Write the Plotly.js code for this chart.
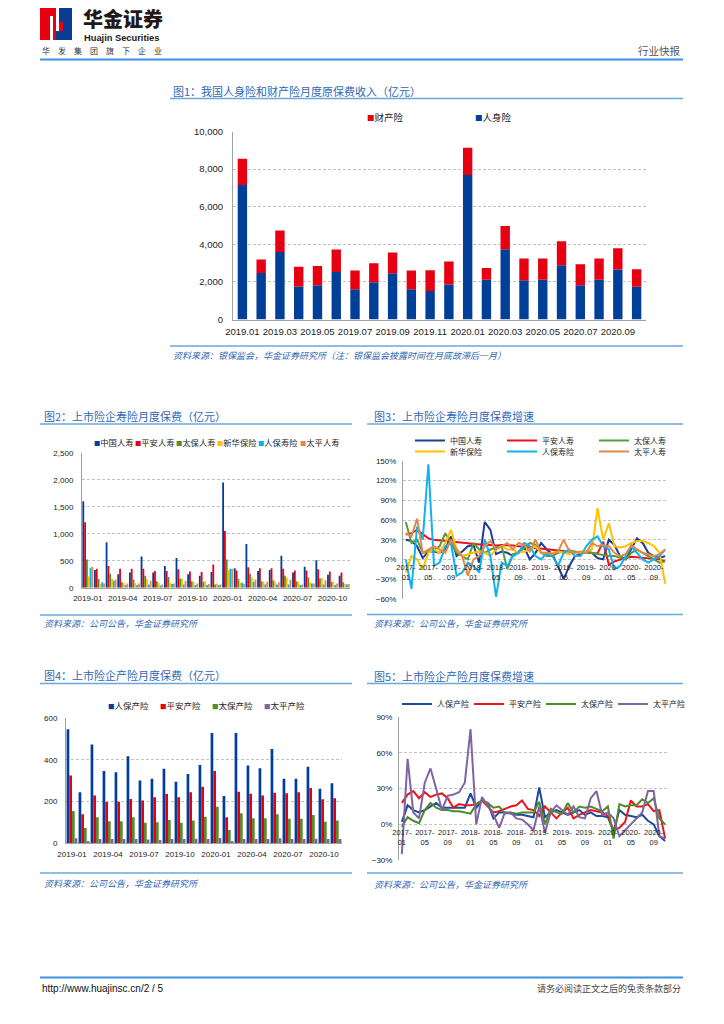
<!DOCTYPE html>
<html><head><meta charset="utf-8">
<script src="https://cdn.plot.ly/plotly-3.0.1.min.js"></script>
<style>html,body{margin:0;padding:0;background:#fff}#page{width:724px;height:1024px}</style>
</head><body><div id="page"></div>
<script>
// ---------- Chart 1 data ----------
const months1 = ['2019.01','2019.02','2019.03','2019.04','2019.05','2019.06','2019.07','2019.08','2019.09','2019.10','2019.11','2019.12',
                 '2020.01','2020.02','2020.03','2020.04','2020.05','2020.06','2020.07','2020.08','2020.09','2020.10'];
const life1 = [7150,2480,3590,1750,1820,2530,1610,1980,2460,1610,1520,1860,7690,2120,3740,2090,2120,2890,1820,2120,2660,1740];
const prop1 = [1400,710,1140,1050,1030,1190,990,1010,1100,990,1100,1220,1450,620,1230,1150,1120,1270,1120,1120,1130,930];
const names1 = ['财产险','人身险'];

// ---------- Chart 2 data ----------
const months2 = ['2019-01','2019-02','2019-03','2019-04','2019-05','2019-06','2019-07','2019-08','2019-09','2019-10','2019-11','2019-12',
                 '2020-01','2020-02','2020-03','2020-04','2020-05','2020-06','2020-07','2020-08','2020-09','2020-10','2020-11'];
const ticks24 = ['2019-01','2019-04','2019-07','2019-10','2020-01','2020-04','2020-07','2020-10'];
const names2 = ['中国人寿','平安人寿','太保人寿','新华保险','人保寿险','太平人寿'];
const chinaLife = [1600,330,840,250,280,580,280,400,550,250,220,290,1950,360,810,310,330,590,280,390,510,240,220];
const pinganLife = [1210,350,400,350,350,350,310,310,340,300,290,430,1050,320,380,360,360,350,320,320,340,300,280];
const cpicLife = [520,160,260,100,150,220,120,200,170,120,110,60,520,160,260,120,140,220,120,190,170,110,100];
const nciLife = [210,70,170,90,90,160,90,90,170,110,120,80,330,90,190,110,110,190,100,100,180,110,70];
const piccLife = [370,100,130,50,50,60,40,70,60,50,50,50,350,90,110,60,60,60,50,80,60,50,60];
const taipingLife = [390,80,150,80,80,130,60,80,130,80,70,60,350,70,150,110,100,150,60,80,140,80,70];

// ---------- Chart 3 data (%) ----------
const months3 = ['2017-01','2017-02','2017-03','2017-04','2017-05','2017-06','2017-07','2017-08','2017-09','2017-10','2017-11','2017-12',
                 '2018-01','2018-02','2018-03','2018-04','2018-05','2018-06','2018-07','2018-08','2018-09','2018-10','2018-11','2018-12',
                 '2019-01','2019-02','2019-03','2019-04','2019-05','2019-06','2019-07','2019-08','2019-09','2019-10','2019-11','2019-12',
                 '2020-01','2020-02','2020-03','2020-04','2020-05','2020-06','2020-07','2020-08','2020-09','2020-10','2020-11'];
const tickVals3 = ['2017-01','2017-05','2017-09','2018-01','2018-05','2018-09','2019-01','2019-05','2019-09','2020-01','2020-05','2020-09'];
const tickText3 = ['2017-<br>01','2017-<br>05','2017-<br>09','2018-<br>01','2018-<br>05','2018-<br>09','2019-<br>01','2019-<br>05','2019-<br>09','2020-<br>01','2020-<br>05','2020-<br>09'];
const g3China = [30,28,20,2,12,12,10,15,35,5,12,20,22,-5,57,45,8,12,10,5,12,18,0,10,25,15,8,-10,-30,-10,5,8,12,10,2,0,30,22,5,0,15,32,25,10,5,2,5];
const g3Pingan = [38,40,45,38,32,30,29,28,28,27,26,25,24,23,22,22,21,22,22,21,20,19,19,18,17,15,14,13,12,12,11,11,10,10,9,27,-8,-3,0,2,4,3,3,2,1,0,-3];
const g3Cpic = [57,25,30,10,12,15,20,40,25,10,5,0,25,15,10,15,18,20,-15,8,10,18,25,22,10,5,5,10,12,13,12,10,10,10,8,6,5,5,3,0,10,15,10,5,0,-5,-3];
const g3Nci = [-20,5,0,-15,10,15,10,25,45,15,5,8,10,12,10,5,15,20,15,15,10,12,15,20,10,8,10,12,10,8,10,10,12,15,78,30,55,20,18,20,25,28,28,25,20,10,-37];
const g3Picc = [0,-45,50,30,145,-10,-5,20,25,-25,-20,-5,-10,-20,30,5,-57,-5,-10,5,10,25,20,5,0,10,5,-10,10,15,5,5,20,30,35,20,15,-15,-10,5,20,10,0,-5,0,5,15];
const g3Taiping = [40,35,62,10,15,20,15,10,30,15,5,-25,0,5,20,28,15,20,25,15,25,22,12,30,10,10,8,12,30,12,10,12,10,25,20,22,20,10,5,8,22,15,10,8,5,8,15];

// ---------- Chart 4 data ----------
const names4 = ['人保产险','平安产险','太保产险','太平产险'];
const piccPC = [548,245,474,347,341,418,301,310,358,296,333,376,529,227,529,374,360,453,310,310,368,262,288];
const pinganPC = [325,139,229,198,200,213,205,221,237,221,245,272,347,125,248,238,230,243,240,245,266,211,216];
const cpicPC = [155,74,125,106,106,125,99,101,112,99,110,128,176,64,144,120,120,139,118,118,136,104,110];
const taipingPC = [24,11,21,21,21,21,18,16,21,21,22,21,26,11,21,21,21,24,21,21,22,21,21];

// ---------- Chart 5 data (%) ----------
const g5Picc = [2,16,12,10,12,15,18,14,14,14,14,14,26,14,20,18,5,10,10,9,8,8,7,6,31,6,10,12,10,8,10,12,8,10,7,7,6,-6,12,8,7,6,8,3,0,-10,-14];
const g5Pingan = [18,25,28,22,27,23,25,26,22,14,17,16,16,17,20,15,10,11,13,15,16,20,13,12,7,15,10,5,10,14,5,8,10,12,11,10,7,-5,-3,2,20,15,15,17,11,12,-12];
const g5Cpic = [-2,6,3,1,12,18,14,12,12,11,11,10,9,17,20,18,14,15,9,10,9,10,10,10,19,0,13,10,9,18,10,15,14,15,13,11,15,-12,17,15,16,16,21,18,22,5,0];
const g5Taiping = [-25,55,10,5,35,47,30,12,24,25,27,35,80,0,23,15,8,-3,10,10,5,4,0,-5,15,-7,10,16,12,8,15,6,5,22,28,8,10,5,-10,-5,0,5,10,28,28,-10,-12];

// ---------- helpers ----------
const W = 724, H = 1024;
const px = v => v / W, py = v => 1 - v / H;
const FCN = '"Noto Sans CJK SC", sans-serif';
const FNUM = '"Liberation Sans", Arial, "Noto Sans CJK SC", sans-serif';
const BLUE = '#003f98', RED = '#e60012', GREEN = '#5a8a30', YEL = '#ffc000', CYAN = '#00b0f0', ORG = '#e08a4a', PURP = '#8064a2';
const TITLE_C = '#2f66b3';

function yax(top, bottom, range, dtick, extra) {
  return Object.assign({
    domain: [py(bottom), py(top)], range: range, dtick: dtick, tick0: 0,
    showgrid: true, gridcolor: '#c3c3c3', griddash: '3px,2px', gridwidth: 1,
    zeroline: false, showline: true, linecolor: '#a0a0a0', linewidth: 1,
    ticks: 'outside', ticklen: 5, tickcolor: 'rgba(0,0,0,0)',
    tickfont: {size: 8, family: FNUM, color: '#222'}, fixedrange: true
  }, extra);
}
function xax(left, right, n, extra) {
  return Object.assign({
    domain: [px(left), px(right)], type: 'category', range: [-0.5, n - 0.5],
    showgrid: false, zeroline: false, showline: true, linecolor: '#a0a0a0', linewidth: 1,
    ticks: 'outside', ticklen: 3, tickcolor: 'rgba(0,0,0,0)', tickangle: 0,
    tickfont: {size: 8, family: FNUM, color: '#222'}, fixedrange: true
  }, extra);
}

// ---------- traces ----------
const traces = [];
// chart 1 (stacked via base)
traces.push({type: 'bar', x: months1, y: life1, name: names1[1], xaxis: 'x', yaxis: 'y',
  width: 0.5, offset: -0.25, marker: {color: BLUE}, showlegend: false});
traces.push({type: 'bar', x: months1, y: prop1, base: life1, name: names1[0], xaxis: 'x', yaxis: 'y',
  width: 0.5, offset: -0.25, marker: {color: RED}, showlegend: false});
// chart 2 (grouped)
const series2 = [chinaLife, pinganLife, cpicLife, nciLife, piccLife, taipingLife];
const colors2 = [BLUE, RED, GREEN, YEL, CYAN, ORG];
series2.forEach((s, k) => traces.push({type: 'bar', x: months2, y: s, name: names2[k], xaxis: 'x2', yaxis: 'y2',
  width: 0.156, offset: -0.468 + k * 0.156, marker: {color: colors2[k]}, showlegend: false}));
// chart 3 (lines)
const series3 = [g3China, g3Pingan, g3Cpic, g3Nci, g3Picc, g3Taiping];
const colors3 = ['#1c3f95', '#e8141e', '#5b9a3a', '#ffc000', '#12b1ef', '#e0894b'];
series3.forEach((s, k) => traces.push({type: 'scatter', mode: 'lines', x: months3, y: s, name: names2[k],
  xaxis: 'x3', yaxis: 'y3', line: {color: colors3[k], width: 2}, legend: k < 3 ? 'legend' : 'legend2'}));
// chart 4 (grouped)
const series4 = [piccPC, pinganPC, cpicPC, taipingPC];
const colors4 = [BLUE, RED, GREEN, PURP];
series4.forEach((s, k) => traces.push({type: 'bar', x: months2, y: s, name: names4[k], xaxis: 'x4', yaxis: 'y4',
  width: 0.225, offset: -0.45 + k * 0.225, marker: {color: colors4[k]}, showlegend: false}));
// chart 5 (lines)
const series5 = [g5Picc, g5Pingan, g5Cpic, g5Taiping];
const colors5 = ['#1c4a9c', '#e8141e', '#4e8a2a', '#8064a2'];
series5.forEach((s, k) => traces.push({type: 'scatter', mode: 'lines', x: months3, y: s, name: names4[k],
  xaxis: 'x5', yaxis: 'y5', line: {color: colors5[k], width: 2}, legend: 'legend3'}));

// ---------- geometry ----------
const c3 = {l: 403, r: 668, t: 461, b: 598.7, range: [-60, 150]};
const c5 = {l: 399, r: 668, t: 717.3, b: 860, range: [-30, 90]};
function zeroPos(c) { return py(c.b) + (0 - c.range[0]) / (c.range[1] - c.range[0]) * (py(c.t) - py(c.b)); }

// ---------- annotations ----------
const ann = [];
function txt(t, x, y, o) {
  ann.push(Object.assign({text: t, x: px(x), y: py(y), xref: 'paper', yref: 'paper', showarrow: false,
    xanchor: 'left', yanchor: 'middle', font: {family: FCN, size: 9, color: '#222'}}, o || {}));
}
// header
txt('华金证券', 81, 18, {font: {family: FCN, size: 20, color: '#231815', weight: 900}});
txt('Huajin Securities', 82, 37.8, {font: {family: FNUM, size: 9.3, color: '#231815', weight: 700}});
txt('华\u3000发\u3000集\u3000团\u3000旗\u3000下\u3000企\u3000业', 40, 50.5, {font: {family: FCN, size: 8, color: '#333'}});
txt('行业快报', 683, 50.5, {xanchor: 'right', font: {family: FCN, size: 10.5, color: '#555'}});
// footer
txt('http://www.huajinsc.cn/2 / 5', 40, 988, {font: {family: FNUM, size: 10, color: '#111'}});
txt('请务必阅读正文之后的免责条款部分', 683, 988, {xanchor: 'right', font: {family: FCN, size: 9, color: '#444'}});
// titles
const titles = [['图1：我国人身险和财产险月度原保费收入（亿元）', 171, 91, 11], ['图2：上市险企寿险月度保费（亿元）', 42, 416, 11],
  ['图3：上市险企寿险月度保费增速', 372, 416, 11], ['图4：上市险企产险月度保费（亿元）', 42, 675, 11], ['图5：上市险企产险月度保费增速', 372, 676, 11]];
titles.forEach(t => txt(t[0], t[1], t[2], {font: {family: FCN, size: t[3], color: TITLE_C}}));
const sources = [['资料来源：银保监会，华金证券研究所（注：银保监会披露时间在月底故滞后一月）', 171, 355.5], ['资料来源：公司公告，华金证券研究所', 42, 623],
  ['资料来源：公司公告，华金证券研究所', 372, 623], ['资料来源：公司公告，华金证券研究所', 42, 883], ['资料来源：公司公告，华金证券研究所', 372, 884]];
sources.forEach(s => txt('<i>' + s[0] + '</i>', s[1], s[2], {font: {family: FCN, size: 9, color: TITLE_C}}));
// bar-chart legends (Excel style small squares)
function sqLegend(names, colors, xs, y, size) {
  names.forEach((n, k) => txt('<span style="color:' + colors[k] + ';font-size:' + (size - 2) + 'px">■</span>' + n, xs[k], y,
    {font: {family: FCN, size: size, color: '#222'}}));
}
sqLegend(names1, [RED, BLUE], [365, 473], 116.5, 9.5);
sqLegend(names2, colors2, [92, 133, 174, 215, 256, 298], 441.5, 8.3);
sqLegend(names4, colors4, [106, 158, 210, 262], 705, 8.5);

// ---------- shapes ----------
const shp = [];
function line(x0, y0, x1, y1, color, w) {
  shp.push({type: 'line', xref: 'paper', yref: 'paper', x0: px(x0), y0: py(y0), x1: px(x1), y1: py(y1), line: {color: color, width: w}});
}
function rect(x0, y0, x1, y1, color) {
  shp.push({type: 'rect', xref: 'paper', yref: 'paper', x0: px(x0), y0: py(y0), x1: px(x1), y1: py(y1), fillcolor: color, line: {width: 0}});
}
// logo
rect(40, 8, 56, 40, '#e60012');
rect(56, 8, 72, 40, '#0a3d91');
rect(50, 16, 53, 40, '#ffffff');
rect(56, 8, 59, 31, '#ffffff');
rect(59, 22, 63, 31, '#e60012');
// header / footer lines
line(40, 59.5, 683, 59.5, '#3d8fdc', 2);
line(40, 977.5, 683, 977.5, '#3d8fdc', 2);
// title underlines and source lines
const LC = '#6aa7dc';
line(170, 98.5, 683, 98.5, LC, 1.5); line(170, 346, 683, 346, LC, 1.5);
line(40, 424, 352, 424, LC, 1.5); line(40, 615, 352, 615, LC, 1.5);
line(367, 424, 683, 424, LC, 1.5); line(367, 614.5, 683, 614.5, LC, 1.5);
line(40, 683.5, 352, 683.5, LC, 1.5); line(40, 873, 352, 873, LC, 1.5);
line(367, 683.5, 683, 683.5, LC, 1.5); line(367, 873, 683, 873, LC, 1.5);

// ---------- layout ----------
const legBase = {orientation: 'h', xanchor: 'left', yanchor: 'middle', xref: 'paper', yref: 'paper',
  font: {family: FCN, size: 8, color: '#222'}, itemwidth: 30, entrywidthmode: 'pixels',
  bgcolor: 'rgba(0,0,0,0)', traceorder: 'normal', itemclick: false, itemdoubleclick: false};

const layout = {
  width: W, height: H, margin: {l: 0, r: 0, t: 0, b: 0}, autosize: false,
  paper_bgcolor: '#ffffff', plot_bgcolor: 'rgba(0,0,0,0)', barmode: 'overlay', showlegend: true,
  font: {family: FNUM, size: 9, color: '#222'},
  xaxis: xax(233, 646, months1.length, {anchor: 'y', tickvals: months1.filter((m, i) => i % 2 === 0), tickfont: {size: 9.5, family: FNUM, color: '#222'}}),
  yaxis: yax(131.5, 319.5, [0, 10000], 2000, {anchor: 'x', tickformat: ',d', tickfont: {size: 9.5, family: FNUM, color: '#222'}, ticklen: 7}),
  xaxis2: xax(82, 350, months2.length, {anchor: 'y2', tickvals: ticks24}),
  yaxis2: yax(452.7, 587.7, [0, 2500], 500, {anchor: 'x2', tickformat: ',d', ticklen: 6}),
  xaxis3: xax(c3.l, c3.r, months3.length, {anchor: 'free', position: zeroPos(c3), showline: false, ticklen: 1, tickvals: tickVals3, ticktext: tickText3, tickfont: {size: 7.5, family: FNUM, color: '#222'}}),
  yaxis3: yax(c3.t, c3.b, c3.range, 30, {anchor: 'x3', ticksuffix: '%', ticklen: 4}),
  xaxis4: xax(66, 342, months2.length, {anchor: 'y4', tickvals: ticks24}),
  yaxis4: yax(718.3, 843.3, [0, 600], 200, {anchor: 'x4', ticklen: 6}),
  xaxis5: xax(c5.l, c5.r, months3.length, {anchor: 'free', position: zeroPos(c5), showline: false, ticklen: 1, tickvals: tickVals3, ticktext: tickText3, tickfont: {size: 7.5, family: FNUM, color: '#222'}}),
  yaxis5: yax(c5.t, c5.b, c5.range, 30, {anchor: 'x5', ticksuffix: '%', ticklen: 4}),
  legend: Object.assign({}, legBase, {x: px(410), y: py(440.5), entrywidth: 47}),
  legend2: Object.assign({}, legBase, {x: px(410), y: py(451.5), entrywidth: 47}),
  legend3: Object.assign({}, legBase, {x: px(397), y: py(704), entrywidth: 27}),
  annotations: ann, shapes: shp
};

Plotly.newPlot('page', traces, layout, {staticPlot: true, displayModeBar: false});
</script></body></html>
